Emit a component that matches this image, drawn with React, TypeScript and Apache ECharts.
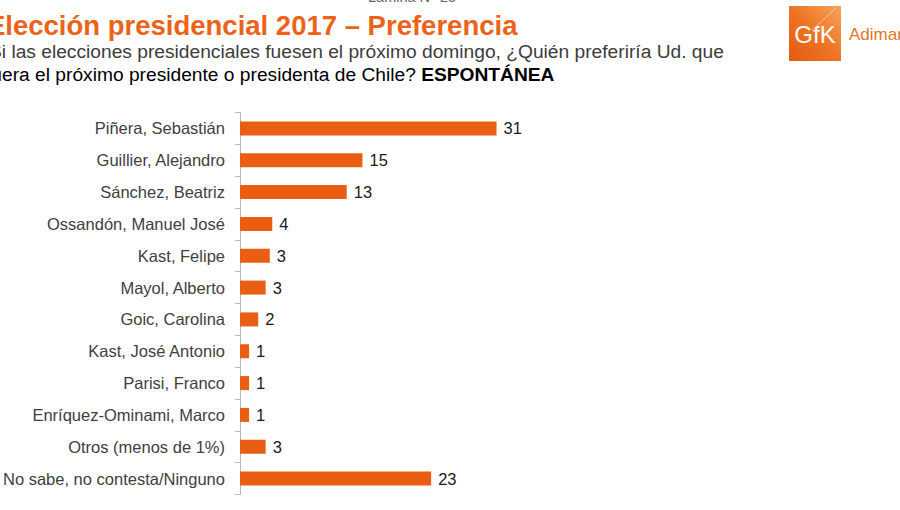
import React, { useEffect, useRef } from "react";
import * as echarts from "echarts";

const categories = [
  "Piñera, Sebastián",
  "Guillier, Alejandro",
  "Sánchez, Beatriz",
  "Ossandón, Manuel José",
  "Kast, Felipe",
  "Mayol, Alberto",
  "Goic, Carolina",
  "Kast, José Antonio",
  "Parisi, Franco",
  "Enríquez-Ominami, Marco",
  "Otros (menos de 1%)",
  "No sabe, no contesta/Ninguno",
];
const values = [31, 14.8, 12.9, 3.9, 3.6, 3.1, 2.2, 1.1, 1.1, 1.1, 3.1, 23.1];
const shownLabels = [31, 15, 13, 4, 3, 3, 2, 1, 1, 1, 3, 23];

const titleText = "Elección presidencial 2017 – Preferencia";
const subtitle1 = "Si las elecciones presidenciales fuesen el próximo domingo, ¿Quién preferiría Ud. que";
const subtitle2a = "fuera el próximo presidente o presidenta de Chile? ";
const subtitle2b = "ESPONTÁNEA";
const slideText = "Lámina N° 25";

const ORANGE = "#E85E13";
const FONT = "'Liberation Sans', Arial, sans-serif";

export default function App() {
  const ref = useRef<HTMLDivElement>(null);
  useEffect(() => {
    if (!ref.current) return;
    const chart = echarts.init(ref.current, undefined, { renderer: "svg" });
    chart.setOption({
      animation: false,
      backgroundColor: "#ffffff",
      textStyle: { fontFamily: FONT },
      grid: { left: 238, top: 112.5, width: 333, height: 382, containLabel: false },
      xAxis: { type: "value", min: 0, max: 40, show: false },
      yAxis: {
        type: "category",
        inverse: true,
        data: categories,
        axisLine: { show: true, lineStyle: { color: "#B8B8B8", width: 1 } },
        axisTick: { show: true, length: 5, lineStyle: { color: "#B8B8B8" } },
        axisLabel: { color: "#404040", fontSize: 16.5, margin: 15, fontFamily: FONT },
      },
      series: [
        {
          type: "bar",
          data: values,
          barWidth: 14,
          itemStyle: { color: ORANGE },
          label: {
            show: true,
            position: "right",
            distance: 7,
            color: "#1a1a1a",
            fontSize: 16.5,
            fontFamily: FONT,
            formatter: (p: any) => String(shownLabels[p.dataIndex]),
          },
        },
      ],
      graphic: [
        {
          type: "text",
          x: 368,
          y: 4,
          style: {
            text: slideText,
            fontSize: 14.5,
            fill: "#666666",
            fontFamily: FONT,
            verticalAlign: "bottom",
          },
        },
        {
          type: "text",
          x: -13,
          y: 39,
          style: {
            text: titleText,
            fontSize: 27.5,
            fontWeight: "bold",
            fill: "#EC6219",
            fontFamily: FONT,
            verticalAlign: "bottom",
          },
        },
        {
          type: "text",
          x: -11,
          y: 42,
          style: { text: subtitle1, fontSize: 19.2, fill: "#3c3c3c", fontFamily: FONT },
        },
        {
          type: "text",
          x: -14,
          y: 65,
          style: {
            text: "{n|" + subtitle2a + "}{b|" + subtitle2b + "}",
            fontFamily: FONT,
            rich: {
              n: { fontSize: 19.2, color: "#3c3c3c", fontFamily: FONT },
              b: { fontSize: 19.2, fontWeight: "bold", color: "#333333", fontFamily: FONT },
            },
          },
        },
        {
          type: "rect",
          shape: { x: 789, y: 6, width: 52, height: 55 },
          style: {
            fill: new echarts.graphic.LinearGradient(1, 0, 0, 1, [
              { offset: 0, color: "#F7A35C" },
              { offset: 0.5, color: "#EE7424" },
              { offset: 1, color: "#E35A12" },
            ]),
          },
        },
        {
          type: "line",
          shape: { x1: 812, y1: 30, x2: 836, y2: 8 },
          style: { stroke: "rgba(255,255,255,0.45)", lineWidth: 1 },
        },
        {
          type: "text",
          x: 815,
          y: 34,
          style: {
            text: "GfK",
            fontSize: 24,
            fill: "#ffffff",
            fontFamily: FONT,
            align: "center",
            verticalAlign: "middle",
          },
        },
        {
          type: "text",
          x: 849,
          y: 34,
          style: {
            text: "Adimark",
            fontSize: 17,
            fill: "#E8731F",
            fontFamily: FONT,
            verticalAlign: "middle",
          },
        },
      ],
    });
    return () => chart.dispose();
  }, []);
  return (
    <div
      ref={ref}
      style={{ position: "fixed", left: 0, top: 0, width: 900, height: 510 }}
    />
  );
}
